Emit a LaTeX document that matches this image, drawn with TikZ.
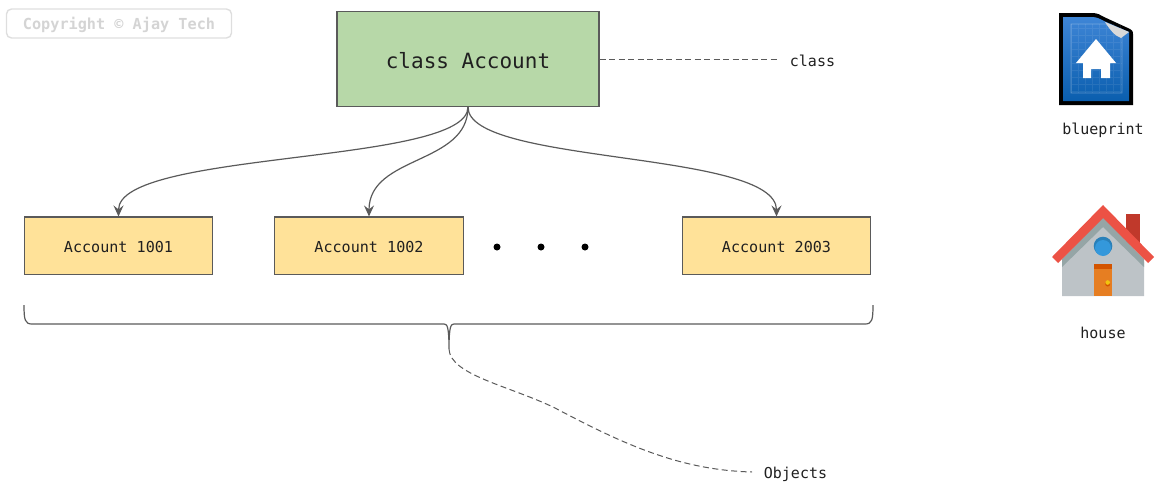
\documentclass[tikz,border=0pt]{standalone}
\usepackage{fontspec}
\setmonofont{DejaVu Sans Mono}
\usetikzlibrary{arrows.meta}
\definecolor{linegray}{HTML}{5A5A5A}
\definecolor{classgreen}{HTML}{B7D8A8}
\definecolor{objyellow}{HTML}{FFE299}
\definecolor{inktext}{HTML}{202020}
\definecolor{bluetop}{HTML}{3E85D6}
\definecolor{bluebot}{HTML}{0A5EAE}
\definecolor{roofred}{HTML}{EC5245}
\definecolor{chimney}{HTML}{C0392B}
\definecolor{wallgray}{HTML}{BDC3C7}
\definecolor{shadegray}{HTML}{95A5A6}
\definecolor{doororange}{HTML}{E67E22}
\definecolor{doortop}{HTML}{D35400}
\definecolor{glassblue}{HTML}{3498DB}
\definecolor{glassdark}{HTML}{2980B9}
\definecolor{knob}{HTML}{F1C40F}
\tikzset{
  box/.style={draw=linegray, line width=1.2pt, inner sep=0pt, text=inktext, font=\ttfamily},
  objbox/.style={box, fill=objyellow, minimum width=188.5pt, minimum height=57.5pt, text height=13pt, text depth=0pt, font=\ttfamily\fontsize{15.1}{18}\selectfont},
  tag/.style={inner sep=0pt, text=inktext, font=\ttfamily\fontsize{15}{18}\selectfont},
  link/.style={draw=linegray, line width=1.2pt, -{Stealth[length=11pt,width=10pt,inset=4pt]}},
  leader/.style={draw=linegray, line width=1pt, dash pattern=on 6pt off 3.5pt},
  dot/.style={circle, fill=black, inner sep=0pt, minimum size=7pt}
}
\begin{document}
\begin{tikzpicture}[x=1pt,y=-1pt]
        \useasboundingbox (0,0) rectangle (1172,498);

        % Watermark
        \node (mark) [draw=black!13, line width=1.4pt, rounded corners=5pt, minimum width=225pt, minimum height=29pt, inner sep=0pt, text=black!17, text height=14pt, text depth=3pt, font=\ttfamily\bfseries\fontsize{15.2}{18}\selectfont] at (119,23.5) {Copyright © Ajay Tech};

        % Class
        \node (cls) [box, fill=classgreen, minimum width=262pt, minimum height=95pt, text height=19pt, text depth=0pt, font=\ttfamily\fontsize{21}{24}\selectfont] at (468,59) {class Account};
        \coordinate (clsend) at (778,59);
        \node (clstag) [tag] at (812.5,61) {class};
        \draw[leader] (cls.east) -- (clsend);

        % Objects
        \node (obj1) [objbox] at (118.5,245.8) {Account 1001};
        \node (obj2) [objbox] at (369,245.8) {Account 1002};
        \node (obj3) [objbox] at (776.5,245.8) {Account 2003};
        \node (dot1) [dot] at (497,247) {};
        \node (dot2) [dot] at (541,247) {};
        \node (dot3) [dot] at (585,247) {};

        % Links from class to objects
        \draw[link] (cls.south) .. controls (468,165) and (118.5,150) .. (obj1.north);
        \draw[link] (cls.south) .. controls (468,165) and (369,155) .. (obj2.north);
        \draw[link] (cls.south) .. controls (468,165) and (776.5,150) .. (obj3.north);

        % Brace
        \coordinate (bl) at (24,305);
        \coordinate (br) at (873,305);
        \coordinate (btip) at (449,349);
        \draw[linegray, line width=1.2pt] (bl) .. controls (24,320) and (25,324) .. (32,324) -- (444,324) .. controls (447,324) and (449,326) .. (btip) .. controls (449,326) and (451,324) .. (454,324) -- (865,324) .. controls (872,324) and (873,320) .. (br);

        % Objects label
        \node (objtag) [tag] at (795.5,474) {Objects};
        \coordinate (objend) at (752,472);
        \draw[leader] (btip) .. controls (450,375) and (510,386) .. (555,408) .. controls (625,445) and (680,470) .. (objend);

        % Blueprint icon
        \fill[black] (1059,13) -- (1092,13) .. controls (1098,13) and (1100,15) .. (1104,17) -- (1130,29) .. controls (1133,31) and (1133,32) .. (1133,34) -- (1133,105) -- (1059,105) -- cycle;
        \shade[top color=bluetop, bottom color=bluebot] (1063,17) -- (1092,17) .. controls (1097,17) and (1100,19) .. (1104,21) -- (1129,32) -- (1129,101) -- (1063,101) -- cycle;
        \draw[white, opacity=0.08, line width=0.5pt, step=7pt] (1071,24) grid (1122,93);
        \draw[white, opacity=0.3, line width=0.9pt] (1071,24) -- (1107,24) -- (1122,38) -- (1122,93) -- (1071,93) -- cycle;
        \fill[black!15] (1105,22) -- (1129,32) -- (1121,38) .. controls (1115,36) and (1110,30) .. (1105,22) -- cycle;
        \fill[white] (1096,39) -- (1116,63) -- (1110,63) -- (1110,78) -- (1101,78) -- (1101,69) -- (1091,69) -- (1091,78) -- (1083,78) -- (1083,63) -- (1076,63) -- cycle;
        \node (bluetag) [tag] at (1103,130) {blueprint};

        % House icon
        \fill[chimney] (1126,214) rectangle (1140,245);
        \fill[wallgray] (1062,262) -- (1103,222) -- (1144,262) -- (1144,296) -- (1062,296) -- cycle;
        \fill[shadegray] (1062,267) -- (1103,227) -- (1144,267) -- (1144,259) -- (1103,217) -- (1062,259) -- cycle;
        \fill[roofred] (1052,257) -- (1103,205) -- (1154,257) -- (1148,263) -- (1103,218) -- (1058,263) -- cycle;
        \fill[glassdark] (1103,246) circle (9.3pt);
        \fill[glassblue] (1103,248) circle (8pt);
        \fill[doororange] (1094,264) rectangle (1112,296);
        \fill[doortop] (1094,264) rectangle (1112,269);
        \fill[doortop] (1107.7,284) circle (2.5pt);
        \fill[knob] (1107.7,282.5) circle (2.3pt);
        \node (housetag) [tag] at (1103,333) {house};
    \end{tikzpicture}
\end{document}
